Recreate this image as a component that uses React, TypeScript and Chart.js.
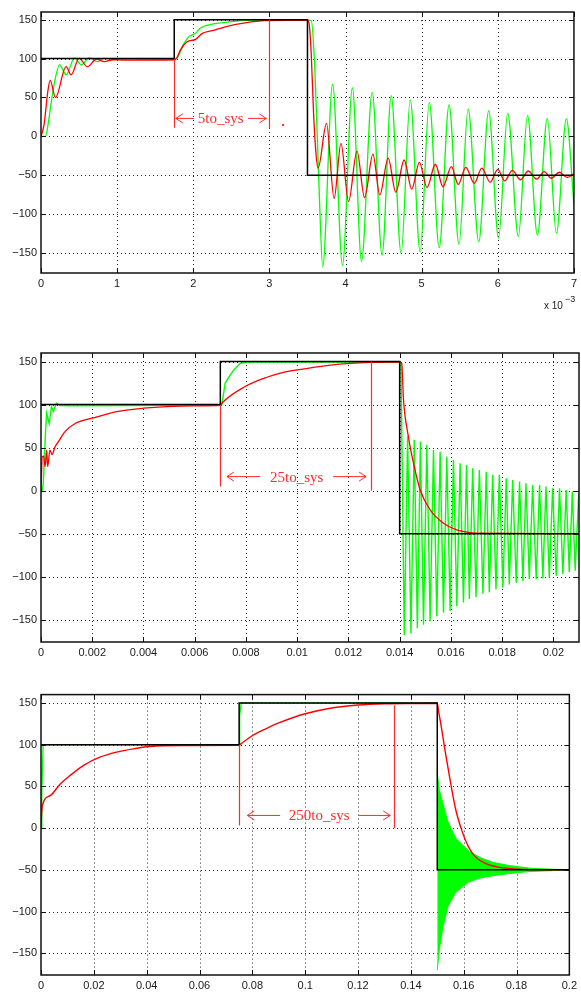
import React, { useEffect, useRef } from "react";
import { Chart, registerables } from "chart.js";

Chart.register(...registerables);

// ---------- shared axis settings ----------
const Y_MIN = -176;
const Y_MAX = 160;
const Y_TICKS = [-150, -100, -50, 0, 50, 100, 150];
const Y_LABELS = ["\u2212150", "\u2212100", "\u221250", "0", "50", "100", "150"];

const BLACK = "#000000";
const RED = "#ff0000";
const GREEN = "#00ff00";
const NOTE_RED = "#ff2a2a";

// ---------- panel 1 : 5to_sys (time in ms, axis scaled by 10^-3) ----------
const p1XTicks = [0, 1, 2, 3, 4, 5, 6, 7];
const p1XLabels = ["0", "1", "2", "3", "4", "5", "6", "7"];

const p1RefT = [0, 1.75, 1.75, 3.5, 3.5, 7];
const p1RefV = [100, 100, 150, 150, -50, -50];

const p1GreenT = [
  0, 0.06, 0.1, 0.16, 0.245, 0.33, 0.44, 0.53, 0.635, 0.74, 0.83, 0.95, 1.1, 1.75,
  1.79, 1.87, 1.94, 2.03, 2.09, 2.25, 2.51, 2.7, 3.5, 3.55, 3.59, 3.63, 3.66, 3.7,
  3.83, 3.96, 4.09, 4.21, 4.35, 4.48, 4.6, 4.73, 4.85, 4.98, 5.1, 5.23, 5.36, 5.49,
  5.61, 5.75, 5.88, 6.01, 6.13, 6.27, 6.39, 6.52, 6.65, 6.77, 6.9, 7.0,
];
const p1GreenV = [
  0, 0, 20, 60, 92, 79, 101, 92, 101, 96, 100.4, 99, 99.5, 99.5,
  101, 118, 128, 132.5, 139, 144.5, 147.5, 149.5, 149.5, 149, 100, -3, -88, -168,
  67, -166, 62.5, -161, 56.6, -153, 52.3, -150.6, 47, -148.5, 43.7, -143.4, 40.3, -139,
  35, -135.6, 32.6, -131, 29.6, -129, 26.5, -127, 23, -125, 22.3, -88,
];

const p1RedT = [
  0, 0.04, 0.09, 0.12, 0.19, 0.33, 0.395, 0.5, 0.61, 0.73, 0.83, 0.95, 1.1, 1.75,
  1.79, 1.83, 1.92, 2.03, 2.12, 2.25, 2.42, 2.68, 2.94, 3.3, 3.5, 3.52, 3.55, 3.58,
  3.61, 3.64, 3.75, 3.85, 3.94, 4.04, 4.15, 4.25, 4.36, 4.45, 4.56, 4.66, 4.77, 4.87,
  4.97, 5.07, 5.18, 5.28, 5.39, 5.48, 5.58, 5.69, 5.79, 5.9, 6.0, 6.09, 6.19, 6.3,
  6.4, 6.51, 6.61, 6.7, 6.81, 6.91, 7.0,
];
const p1RedV = [
  0, 15, 58, 72, 50, 89.6, 79, 100.4, 89.6, 99.5, 96, 98.5, 98, 98.5,
  102, 111, 121.7, 124.8, 132.5, 136, 141, 146, 148.8, 149.2, 149.5, 146, 105, 30,
  -20, -41, 16.7, -80, -9, -84, -19, -79, -23, -75.5, -28, -72, -30.5, -68,
  -33.5, -66, -36, -65, -39, -62, -40, -60.5, -41, -59, -42.5, -57.5, -43.8, -56,
  -44.7, -55, -45.5, -54, -46.3, -53, -48,
];

// ---------- panel 2 : 25to_sys (time in s) ----------
const p2XTicks = [0, 0.002, 0.004, 0.006, 0.008, 0.01, 0.012, 0.014, 0.016, 0.018, 0.02];
const p2XLabels = ["0", "0.002", "0.004", "0.006", "0.008", "0.01", "0.012", "0.014", "0.016", "0.018", "0.02"];

const p2RefT = [0, 0.007, 0.007, 0.014, 0.014, 0.021];
const p2RefV = [100, 100, 150, 150, -50, -50];

const p2GreenT = [
  0, 0.00005, 0.00009, 0.00018, 0.00022, 0.00032, 0.00041, 0.00048, 0.0006, 0.00074,
  0.0012, 0.007, 0.00706, 0.00719, 0.00739, 0.00752, 0.00778, 0.0081, 0.014, 0.01405,
  0.01418, 0.01431, 0.01444, 0.01457, 0.01469, 0.01481, 0.01493, 0.01506, 0.01519, 0.01532,
  0.01545, 0.01558, 0.01571, 0.01584, 0.01597, 0.0161, 0.01623, 0.01636, 0.01649, 0.01661,
  0.01672, 0.01685, 0.01698, 0.01711, 0.01725, 0.01738, 0.0175, 0.01763, 0.01776, 0.01789,
  0.01803, 0.01816, 0.01828, 0.01841, 0.01855, 0.01868, 0.01881, 0.01893, 0.01906, 0.01919,
  0.01933, 0.01946, 0.01959, 0.01971, 0.01984, 0.01997, 0.02011, 0.02024, 0.02037, 0.0205,
  0.02062, 0.02074, 0.02085, 0.02099,
];
const p2GreenV = [
  0, 0, 8.6, 70.6, 90, 78, 97.7, 92, 101.6, 99,
  98.5, 99.5, 100, 125, 134.5, 140, 148, 149.5, 149.5, 148,
  -168, 62.8, -166, 59, -160, 57, -156, 53, -152, 47.3,
  -146, 45.3, -142, 39.5, -140, 35.7, -134, 31.9, -130, 29.9,
  -126, 26, -124, 24, -120, 22, -118, 18.3, -115, 18.3,
  -113, 14.4, -109, 12.4, -107, 10.5, -105, 8.6, -103, 6.6,
  -103, 6.6, -102, 4.7, -101, 2.8, -99, 2.8, -97, 0.8,
  -95, -1.2, -93, -3,
];

const p2RedT = [
  0, 0.00005, 0.0001, 0.00016, 0.00022, 0.00026, 0.00035, 0.00043, 0.00055, 0.00068,
  0.00094, 0.00133, 0.002, 0.00296, 0.004, 0.0049, 0.006, 0.007, 0.00706, 0.00797,
  0.00882, 0.00934, 0.01, 0.0113, 0.01207, 0.01285, 0.014, 0.01408, 0.01415, 0.01434,
  0.01454, 0.0148, 0.01519, 0.01571, 0.01623, 0.01675, 0.01714, 0.021,
];
const p2RedV = [
  0, 39.5, 40, 28, 47, 28, 47, 42, 51, 57,
  68.6, 78, 84.2, 91.9, 95.8, 97.7, 98.5, 99, 101.6, 121,
  131.8, 136.5, 140.3, 146, 148, 149, 149.5, 148, 105.5, 62.8,
  31.9, 0.8, -22.4, -37.9, -45.7, -48.8, -49.5, -50,
];

// ---------- panel 3 : 250to_sys (time in s) ----------
const p3XTicks = [0, 0.02, 0.04, 0.06, 0.08, 0.1, 0.12, 0.14, 0.16, 0.18, 0.2];
const p3XLabels = ["0", "0.02", "0.04", "0.06", "0.08", "0.1", "0.12", "0.14", "0.16", "0.18", "0.2"];

const p3RefT = [0, 0.075, 0.075, 0.15, 0.15, 0.2];
const p3RefV = [100, 100, 150, 150, -50, -50];

const p3GreenT = [0, 0.0003, 0.0008, 0.075, 0.0752, 0.0758, 0.15];
const p3GreenV = [0, 40, 100, 100, 135, 150, 150];

// envelope of the fast green oscillation after the last step
const p3BandT = [0.15, 0.1508, 0.1522, 0.154, 0.157, 0.1617, 0.166, 0.171, 0.177, 0.185, 0.193, 0.2];
const p3BandHigh = [67, 45, 29, 8, -12, -26.7, -35, -41, -44.7, -48, -49.2, -50];
const p3BandLow = [-170, -145, -118, -94, -77, -65, -60, -57, -54.5, -52, -51, -50];

const p3RedT = [
  0, 0.0002, 0.0005, 0.0035, 0.0073, 0.011, 0.016, 0.0223, 0.0286, 0.0349,
  0.0412, 0.0537, 0.075, 0.0757, 0.0801, 0.0851, 0.09, 0.1, 0.11, 0.12,
  0.13, 0.15, 0.1505, 0.1515, 0.153, 0.155, 0.157, 0.159, 0.161, 0.164,
  0.168, 0.173, 0.178, 0.185, 0.2,
];
const p3RedV = [
  0, 15, 27, 39, 53, 63, 75, 85, 91, 95,
  97.8, 99, 99.3, 101, 111, 119, 126, 137, 144, 147.5,
  149, 149.6, 140, 122, 92, 55, 22, 0, -17, -33,
  -42, -46.7, -48.5, -49.7, -50,
];

// ---------- panel descriptions ----------
interface Line { t: number[]; v: number[]; color: string; width: number; smooth: boolean }
interface Band { t: number[]; high: number[]; low: number[] }
interface Marker { x: number; from: number; to: number }
interface Span { y: number; leftFrom: number; leftTo: number; textX: number; rightFrom: number; rightTo: number; text: string }
interface PanelDef {
  top: number; height: number; padTop: number; padRight: number; padBottom: number; axisW: number; axisH: number;
  xMin: number; xMax: number; xTicks: number[]; xLabels: string[];
  lines: Line[]; band?: Band; markers: Marker[]; span: Span;
  dots?: { x: number; y: number }[]; exponent?: boolean;
}

const panels: PanelDef[] = [
  {
    top: 0, height: 325, padTop: 12, padRight: 3, padBottom: 25, axisW: 41, axisH: 27,
    xMin: 0, xMax: 7, xTicks: p1XTicks, xLabels: p1XLabels,
    lines: [
      { t: p1RefT, v: p1RefV, color: BLACK, width: 1.5, smooth: false },
      { t: p1RedT, v: p1RedV, color: RED, width: 1.3, smooth: true },
      { t: p1GreenT, v: p1GreenV, color: GREEN, width: 1.3, smooth: true },
    ],
    markers: [
      { x: 1.75, from: 11, to: 100 },
      { x: 2.99, from: 10, to: 150 },
    ],
    span: { y: 23, leftFrom: 1.77, leftTo: 2.01, textX: 2.36, rightFrom: 2.72, rightTo: 2.96, text: "5to_sys" },
    dots: [{ x: 3.18, y: 14.5 }],
    exponent: true,
  },
  {
    top: 330, height: 340, padTop: 23, padRight: 2, padBottom: 0, axisW: 41, axisH: 28,
    xMin: 0, xMax: 0.021, xTicks: p2XTicks, xLabels: p2XLabels,
    lines: [
      { t: p2RefT, v: p2RefV, color: BLACK, width: 1.5, smooth: false },
      { t: p2RedT, v: p2RedV, color: RED, width: 1.3, smooth: true },
      { t: p2GreenT, v: p2GreenV, color: GREEN, width: 1.4, smooth: false },
    ],
    markers: [
      { x: 0.007, from: 4.7, to: 100 },
      { x: 0.012875, from: 0, to: 150 },
    ],
    span: { y: 16.3, leftFrom: 0.007257, leftTo: 0.008556, textX: 0.00998, rightFrom: 0.0114, rightTo: 0.01269, text: "25to_sys" },
  },
  {
    top: 684, height: 310, padTop: 10, padRight: 9, padBottom: 0, axisW: 41, axisH: 19,
    xMin: 0, xMax: 0.2, xTicks: p3XTicks, xLabels: p3XLabels,
    lines: [
      { t: p3RefT, v: p3RefV, color: BLACK, width: 1.5, smooth: false },
      { t: p3RedT, v: p3RedV, color: RED, width: 1.4, smooth: true },
      { t: p3GreenT, v: p3GreenV, color: GREEN, width: 1.3, smooth: false },
    ],
    band: { t: p3BandT, high: p3BandHigh, low: p3BandLow },
    markers: [
      { x: 0.075, from: 3.2, to: 100 },
      { x: 0.1338, from: 0, to: 147 },
    ],
    span: { y: 15.2, leftFrom: 0.0781, leftTo: 0.0905, textX: 0.1053, rightFrom: 0.1203, rightTo: 0.1322, text: "250to_sys" },
  },
];

const TICK_FONT = { family: "'Liberation Sans', Arial, Helvetica, sans-serif", size: 11 };

// Grid, frame, inward tick marks and the red time-span annotation.
function framePlugin(def: PanelDef) {
  const hline = (ctx: CanvasRenderingContext2D, x1: number, x2: number, y: number) => {
    ctx.beginPath(); ctx.moveTo(x1, y); ctx.lineTo(x2, y); ctx.stroke();
  };
  const vline = (ctx: CanvasRenderingContext2D, x: number, y1: number, y2: number) => {
    ctx.beginPath(); ctx.moveTo(x, y1); ctx.lineTo(x, y2); ctx.stroke();
  };
  const arrow = (ctx: CanvasRenderingContext2D, from: number, to: number, y: number) => {
    const dir = to > from ? 1 : -1;
    ctx.beginPath();
    ctx.moveTo(from, y); ctx.lineTo(to, y);
    ctx.moveTo(to - dir * 7, y - 4.5); ctx.lineTo(to, y); ctx.lineTo(to - dir * 7, y + 4.5);
    ctx.stroke();
  };
  return {
    id: "matlabFrame",
    beforeDatasetsDraw(chart: any) {
      const { ctx, chartArea: a, scales } = chart;
      const xs = scales.x, ys = scales.y;
      ctx.save();
      ctx.strokeStyle = "#2a2a2a";
      ctx.lineWidth = 1;
      ctx.setLineDash([1, 3]);
      for (const v of def.xTicks) {
        const px = Math.round(xs.getPixelForValue(v)) + 0.5;
        if (px <= a.left + 1 || px >= a.right - 1) continue;
        vline(ctx, px, a.top, a.bottom);
      }
      for (const v of Y_TICKS) {
        const py = Math.round(ys.getPixelForValue(v)) + 0.5;
        if (py <= a.top + 1 || py >= a.bottom - 1) continue;
        hline(ctx, a.left, a.right, py);
      }
      ctx.restore();
    },
    afterDatasetsDraw(chart: any) {
      const { ctx, chartArea: a, scales } = chart;
      const xs = scales.x, ys = scales.y;
      ctx.save();
      // inward tick marks on all four sides
      ctx.strokeStyle = "#111";
      ctx.lineWidth = 1;
      for (const v of def.xTicks) {
        const px = Math.round(xs.getPixelForValue(v)) + 0.5;
        vline(ctx, px, a.top, a.top + 5);
        vline(ctx, px, a.bottom, a.bottom - 5);
      }
      for (const v of Y_TICKS) {
        const py = Math.round(ys.getPixelForValue(v)) + 0.5;
        hline(ctx, a.left, a.left + 5, py);
        hline(ctx, a.right, a.right - 5, py);
      }
      // axes box
      ctx.lineWidth = 1.5;
      ctx.strokeRect(a.left, a.top, a.right - a.left, a.bottom - a.top);

      // span annotation
      ctx.strokeStyle = NOTE_RED;
      ctx.fillStyle = NOTE_RED;
      ctx.lineWidth = 1.2;
      for (const m of def.markers) {
        const px = Math.round(xs.getPixelForValue(m.x)) + 0.5;
        vline(ctx, px, ys.getPixelForValue(m.to), ys.getPixelForValue(m.from));
      }
      const s = def.span;
      const sy = ys.getPixelForValue(s.y);
      ctx.lineWidth = 1;
      arrow(ctx, xs.getPixelForValue(s.leftTo), xs.getPixelForValue(s.leftFrom), sy);
      arrow(ctx, xs.getPixelForValue(s.rightFrom), xs.getPixelForValue(s.rightTo), sy);
      ctx.font = "15px 'Liberation Serif', 'Times New Roman', serif";
      ctx.textAlign = "center";
      ctx.textBaseline = "middle";
      ctx.fillText(s.text, xs.getPixelForValue(s.textX), sy + 1);
      for (const d of def.dots || []) {
        ctx.fillRect(xs.getPixelForValue(d.x) - 1, ys.getPixelForValue(d.y) - 1, 2, 2);
      }
      ctx.restore();
    },
    afterDraw(chart: any) {
      if (!def.exponent) return;
      // axis multiplier below the last tick label
      const { ctx, chartArea: a } = chart;
      ctx.save();
      ctx.fillStyle = "#1a1a1a";
      ctx.textBaseline = "alphabetic";
      ctx.textAlign = "left";
      ctx.font = "10px 'Liberation Sans', Arial, sans-serif";
      ctx.fillText("x 10", a.right - 30, a.bottom + 36);
      ctx.font = "9px 'Liberation Sans', Arial, sans-serif";
      ctx.fillText("\u22123", a.right - 9, a.bottom + 29);
      ctx.restore();
    },
  };
}

function Panel({ def }: { def: PanelDef }) {
  const ref = useRef<HTMLCanvasElement | null>(null);

  useEffect(() => {
    if (!ref.current) return;
    const datasets: any[] = def.lines.map((l) => ({
      data: l.t.map((x, i) => ({ x, y: l.v[i] })),
      borderColor: l.color,
      borderWidth: l.width,
      pointRadius: 0,
      fill: false,
      tension: 0,
      cubicInterpolationMode: l.smooth ? "monotone" : "default",
    }));
    if (def.band) {
      const b = def.band;
      datasets.push({
        data: b.t.map((x, i) => ({ x, y: b.high[i] })),
        borderColor: GREEN,
        borderWidth: 1,
        backgroundColor: GREEN,
        pointRadius: 0,
        fill: "+1",
      });
      datasets.push({
        data: b.t.map((x, i) => ({ x, y: b.low[i] })),
        borderColor: GREEN,
        borderWidth: 1,
        pointRadius: 0,
        fill: false,
      });
    }

    const chart = new Chart(ref.current, {
      type: "line",
      data: { datasets },
      options: {
        responsive: false,
        animation: false,
        events: [],
        layout: { padding: { top: def.padTop, right: def.padRight, left: 0, bottom: def.padBottom } },
        plugins: { legend: { display: false }, tooltip: { enabled: false } },
        scales: {
          x: {
            type: "linear",
            min: def.xMin,
            max: def.xMax,
            grid: { display: false, drawTicks: false },
            border: { display: false },
            afterBuildTicks: (s: any) => { s.ticks = def.xTicks.map((value) => ({ value })); },
            afterFit: (s: any) => { s.height = def.axisH; },
            ticks: {
              autoSkip: false,
              maxRotation: 0,
              padding: 4,
              color: "#1a1a1a",
              font: TICK_FONT,
              callback: (_v: any, i: number) => def.xLabels[i],
            },
          },
          y: {
            type: "linear",
            min: Y_MIN,
            max: Y_MAX,
            grid: { display: false, drawTicks: false },
            border: { display: false },
            afterBuildTicks: (s: any) => { s.ticks = Y_TICKS.map((value) => ({ value })); },
            afterFit: (s: any) => { s.width = def.axisW; },
            ticks: {
              autoSkip: false,
              padding: 4,
              color: "#1a1a1a",
              font: TICK_FONT,
              callback: (_v: any, i: number) => Y_LABELS[i],
            },
          },
        },
      } as any,
      plugins: [framePlugin(def)],
    });
    return () => chart.destroy();
  }, [def]);

  return (
    <div style={{ position: "absolute", left: 0, top: def.top, width: 581, height: def.height }}>
      <canvas ref={ref} width={581} height={def.height} style={{ display: "block" }} />
    </div>
  );
}

export default function App() {
  return (
    <div style={{ position: "absolute", left: 0, top: 0, width: 581, height: 994, background: "#fff" }}>
      {panels.map((p, i) => (
        <Panel key={i} def={p} />
      ))}
    </div>
  );
}
